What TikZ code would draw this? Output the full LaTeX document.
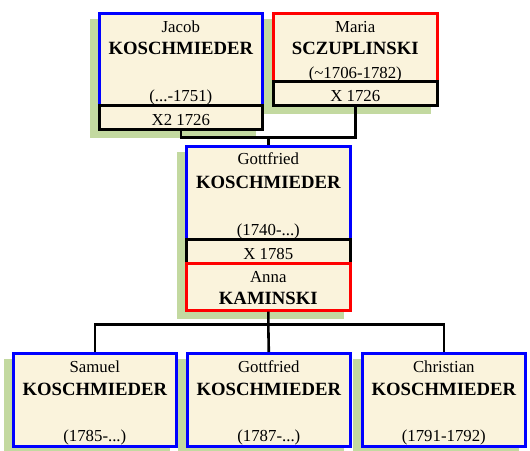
\documentclass[tikz,border=0pt]{standalone}
\usepackage{fontspec}
\setmainfont{Liberation Serif}
\usetikzlibrary{calc,backgrounds}
\definecolor{cream}{HTML}{FAF3DC}
\definecolor{shade}{HTML}{C3D9A0}
\definecolor{pblue}{HTML}{0000FF}
\definecolor{pred}{HTML}{FF0000}
\tikzset{
  box/.style={draw, fill=cream, line width=2.6pt, inner sep=0pt, anchor=north west},
  mbox/.style={box, draw=black},
  bbox/.style={box, draw=pblue},
  rbox/.style={box, draw=pred},
  fn/.style={anchor=base, inner sep=0pt, font=\fontsize{16.8}{18}\selectfont},
  sn/.style={anchor=base, inner sep=0pt, font=\fontsize{18.7}{20}\selectfont\bfseries},
  conn/.style={draw=black, line width=2.6pt},
  shadowfill/.style={fill=shade}
}
\begin{document}
\begin{tikzpicture}[x=1pt,y=-1pt]
\useasboundingbox (0,0) rectangle (530,450);
% boxes
\node[bbox, minimum width=163pt, minimum height=92pt] (jacob) at (98,12) {};
\node[mbox, minimum width=163pt, minimum height=24pt] (jacobm) at (98,104) {};
\node[rbox, minimum width=164pt, minimum height=68pt] (maria) at (272,12) {};
\node[mbox, minimum width=164pt, minimum height=24pt] (mariam) at (272,80) {};
\node[bbox, minimum width=164pt, minimum height=93pt] (gott) at (185,145) {};
\node[mbox, minimum width=164pt, minimum height=24pt] (gottm) at (185,238) {};
\node[rbox, minimum width=164pt, minimum height=47pt] (anna) at (185,262) {};
\node[bbox, minimum width=163pt, minimum height=93pt] (c1) at (12,352) {};
\node[bbox, minimum width=163pt, minimum height=93pt] (c2) at (186,352) {};
\node[bbox, minimum width=163pt, minimum height=93pt] (c3) at (361,352) {};
% shadows
\begin{scope}[on background layer]
\fill[shadowfill] ([shift={(-8,7)}]jacob.north west) rectangle ([shift={(-8,7)}]jacobm.south east);
\fill[shadowfill] ([shift={(-8,7)}]maria.north west) rectangle ([shift={(-8,7)}]mariam.south east);
\fill[shadowfill] ([shift={(-8,7)}]gott.north west) rectangle ([shift={(-8,7)}]anna.south east);
\fill[shadowfill] ([shift={(-8,7)}]c1.north west) rectangle ([shift={(-8,7)}]c1.south east);
\fill[shadowfill] ([shift={(-8,7)}]c2.north west) rectangle ([shift={(-8,7)}]c2.south east);
\fill[shadowfill] ([shift={(-8,7)}]c3.north west) rectangle ([shift={(-8,7)}]c3.south east);
\end{scope}
% texts
\node[fn] (t1) at ($(jacob.north)+(0,20)$) {Jacob};
\node[sn] (t2) at ($(jacob.north)+(0,42)$) {KOSCHMIEDER};
\node[fn] (t3) at ($(jacob.south)+(0,-5)$) {(...-1751)};
\node[fn] (t4) at ($(jacobm.south)+(0,-5)$) {X2 1726};
\node[fn] (t5) at ($(maria.north)+(0,20)$) {Maria};
\node[sn] (t6) at ($(maria.north)+(0,42)$) {SCZUPLINSKI};
\node[fn] (t7) at ($(maria.south)+(0,-4)$) {(\textasciitilde1706-1782)};
\node[fn] (t8) at ($(mariam.south)+(0,-5)$) {X 1726};
\node[fn] (t9) at ($(gott.north)+(0,19)$) {Gottfried};
\node[sn] (t10) at ($(gott.north)+(0,43)$) {KOSCHMIEDER};
\node[fn] (t11) at ($(gott.south)+(0,-5)$) {(1740-...)};
\node[fn] (t12) at ($(gottm.south)+(0,-5)$) {X 1785};
\node[fn] (t13) at ($(anna.north)+(0,20)$) {Anna};
\node[sn] (t14) at ($(anna.north)+(0,42)$) {KAMINSKI};
\node[fn] (t15) at ($(c1.north)+(0,20)$) {Samuel};
\node[sn] (t16) at ($(c1.north)+(0,43)$) {KOSCHMIEDER};
\node[fn] (t17) at ($(c1.south)+(0,-6)$) {(1785-...)};
\node[fn] (t18) at ($(c2.north)+(0,20)$) {Gottfried};
\node[sn] (t19) at ($(c2.north)+(0,43)$) {KOSCHMIEDER};
\node[fn] (t20) at ($(c2.south)+(0,-6)$) {(1787-...)};
\node[fn] (t21) at ($(c3.north)+(0,20)$) {Christian};
\node[sn] (t22) at ($(c3.north)+(0,43)$) {KOSCHMIEDER};
\node[fn] (t23) at ($(c3.south)+(0,-6)$) {(1791-1792)};
% connectors
\coordinate (pj) at ($(jacobm.south)+(0,7)$);
\coordinate (cj) at ($(anna.south)+(0,13)$);
\draw[conn] (jacobm.south) |- (pj) -| (mariam.south);
\draw[conn] (pj -| gott.north) -- (gott.north);
\draw[conn] (anna.south) -- (cj -| anna.south) -- (c2.north);
\draw[conn] (c1.north) |- (cj) -| (c3.north);
\end{tikzpicture}
\end{document}
